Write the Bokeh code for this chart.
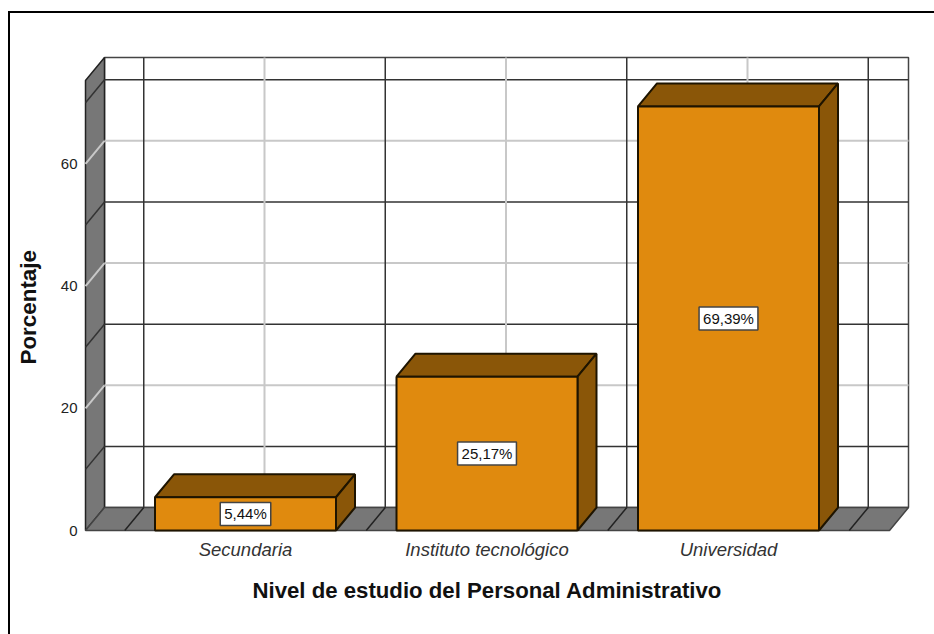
from bokeh.plotting import figure
from bokeh.embed import file_html
from bokeh.resources import INLINE
from bokeh.models import Range1d, FixedTicker, Label, Title

categories = ["Secundaria", "Instituto tecnológico", "Universidad"]
percentages = [5.44, 25.17, 69.39]
bar_labels = ["5,44%", "25,17%", "69,39%"]
y_ticks = [0, 20, 40, 60]
major_grid = [20, 40, 60]
minor_grid = [10, 30, 50, 70]

FRONT = "#E08A0E"
DARK = "#8A5608"
WALL = "#777777"
EDGE = "#1E1400"
GRID_DARK = "#333333"
GRID_LIGHT = "#C8C8C8"
FONT = "Liberation Sans"

PX_X = 241.5
PX_Y = 6.118
DX = 19 / PX_X
DY = 23 / PX_Y
HALF = 90.5 / PX_X
XL = (85 - 245) / PX_X
XR = (889 - 245) / PX_X
TOP = (530.5 - 80) / PX_Y
PAD_X = 2 / PX_X
PAD_Y = 2 / PX_Y

p = figure(width=934, height=634, output_backend="svg", toolbar_location=None,
           x_range=Range1d(XL - PAD_X, XR + DX + PAD_X), y_range=Range1d(-PAD_Y, TOP + DY + PAD_Y),
           frame_width=827, frame_height=477,
           min_border_left=83, min_border_right=24, min_border_top=55, min_border_bottom=102,
           background_fill_color="white", border_fill_color=None, outline_line_color=None)
p.grid.visible = False
p.styles = {
    "background-color": "white",
    "background-image": "linear-gradient(black,black),linear-gradient(black,black)",
    "background-size": "2px 100%,100% 2px",
    "background-position": "8px 11px,8px 11px",
    "background-repeat": "no-repeat",
}

# Walls and floor
p.patch([XL + DX, XR + DX, XR + DX, XL + DX], [DY, DY, TOP + DY, TOP + DY],
        fill_color="white", line_color="#444444", line_width=1.5)
p.patch([XL, XL + DX, XL + DX, XL], [0, DY, TOP + DY, TOP],
        fill_color=WALL, line_color="#222222", line_width=1.5)
p.patch([XL, XL + DX, XR + DX, XR], [0, DY, DY, 0],
        fill_color=WALL, line_color="#444444", line_width=1.5)

# Grid on the back wall, left wall and floor
for values, col, w in ((major_grid, GRID_LIGHT, 2), (minor_grid, GRID_DARK, 1.5)):
    for v in values:
        p.line([XL + DX, XR + DX], [v + DY, v + DY], line_color=col, line_width=w)
        p.line([XL, XL + DX], [v, v + DY], line_color=col, line_width=w)
n = len(categories)
for i in range(n):
    p.line([i + DX, i + DX], [DY, TOP + DY], line_color=GRID_LIGHT, line_width=2)
    p.line([i, i + DX], [0, DY], line_color=GRID_LIGHT, line_width=2)
for i in range(n + 1):
    xm = i - 0.5
    p.line([xm + DX, xm + DX], [DY, TOP + DY], line_color=GRID_DARK, line_width=1.5)
    p.line([xm, xm + DX], [0, DY], line_color="#222222", line_width=1.5)

# Bars
for i, v in enumerate(percentages):
    l, r = i - HALF, i + HALF
    p.patch([l, l + DX, r + DX, r], [v, v + DY, v + DY, v],
            fill_color=DARK, line_color=EDGE, line_width=2)
    p.patch([r, r + DX, r + DX, r], [0, DY, v + DY, v],
            fill_color=DARK, line_color=EDGE, line_width=2)
    p.patch([l, r, r, l], [0, 0, v, v],
            fill_color=FRONT, line_color=EDGE, line_width=2)

# Value labels
for i, (v, t) in enumerate(zip(percentages, bar_labels)):
    p.add_layout(Label(x=i, y=v / 2, text=t, text_align="center", text_baseline="middle",
                       text_font=FONT, text_font_size="15px", text_color="#111111",
                       background_fill_color="white", border_line_color="#444444",
                       border_line_width=1.5, padding=(4, 3)))

# Axes
p.yaxis.ticker = FixedTicker(ticks=y_ticks)
p.yaxis.axis_line_color = None
p.yaxis.major_tick_line_color = None
p.yaxis.major_tick_out = 0
p.yaxis.minor_tick_line_color = None
p.yaxis.major_label_text_font = FONT
p.yaxis.major_label_text_font_size = "15px"
p.yaxis.major_label_text_color = "#222222"
p.yaxis.major_label_standoff = 6

p.xaxis.ticker = FixedTicker(ticks=list(range(n)))
p.xaxis.major_label_overrides = {i: c for i, c in enumerate(categories)}
p.xaxis.axis_line_color = None
p.xaxis.major_tick_line_color = None
p.xaxis.major_tick_out = 0
p.xaxis.minor_tick_line_color = None
p.xaxis.major_label_text_font = FONT
p.xaxis.major_label_text_font_style = "italic"
p.xaxis.major_label_text_font_size = "18.5px"
p.xaxis.major_label_text_color = "#333333"
p.xaxis.major_label_standoff = 6

# Axis titles
p.add_layout(Title(text="Nivel de estudio del Personal Administrativo", align="left",
                   text_font=FONT, text_font_style="bold", text_font_size="22.2px",
                   text_color="#111111", standoff=27, offset=169), "below")
p.add_layout(Title(text="Porcentaje", align="left", vertical_align="top",
                   text_font=FONT, text_font_style="bold", text_font_size="22.4px",
                   text_color="#111111", standoff=30, offset=168), "left")

open("out.html", "w").write(file_html(p, INLINE))
